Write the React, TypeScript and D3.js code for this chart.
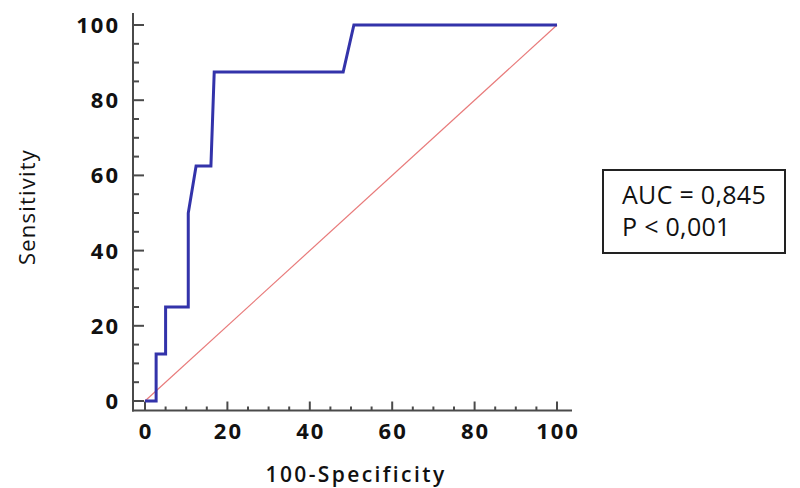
import React from "react";
import * as d3 from "d3";

const fpr = [0, 2.7, 2.7, 5, 5, 10.5, 10.5, 12.4, 16, 16.4, 16.8, 48.1, 50.7, 100];
const tpr = [0, 0, 12.5, 12.5, 25, 25, 50, 62.5, 62.5, 75, 87.5, 87.5, 100, 100];
const refX = [0, 100];
const refY = [0, 100];
const xTicks = [0, 20, 40, 60, 80, 100];
const yTicks = [0, 20, 40, 60, 80, 100];
const legendLines = ["AUC = 0,845", "P < 0,001"];
const xTitle = "100-Specificity";
const yTitle = "Sensitivity";

const FONT = "'Open Sans', 'DejaVu Sans', sans-serif";

export default function App() {
  const x = d3.scaleLinear().domain([0, 100]).range([145, 557]);
  const y = d3.scaleLinear().domain([0, 100]).range([401, 25]);
  const minor = d3.range(0, 101, 5);
  const axisX = 133;
  const axisY = 410.5;
  const axisColor = "#4a4a4a";

  const line = d3
    .line<number>()
    .x((_, i) => x(fpr[i]))
    .y((_, i) => y(tpr[i]));
  const refLine = d3
    .line<number>()
    .x((_, i) => x(refX[i]))
    .y((_, i) => y(refY[i]));

  return (
    <svg
      width={800}
      height={488}
      style={{ position: "absolute", left: 0, top: 0, background: "#fff" }}
    >
      <rect x={0} y={0} width={800} height={488} fill="#fff" />
      {/* Y axis */}
      <line x1={axisX} x2={axisX} y1={13} y2={axisY + 1} stroke={axisColor} strokeWidth={2} />
      {minor.map((v) => (
        <line
          key={"yt" + v}
          x1={axisX}
          x2={axisX + (v % 20 === 0 ? 11 : 6)}
          y1={y(v)}
          y2={y(v)}
          stroke={axisColor}
          strokeWidth={2}
        />
      ))}
      {yTicks.map((v) => (
        <text
          key={"yl" + v}
          x={120}
          y={y(v)}
          dy="0.36em"
          textAnchor="end"
          fontFamily={FONT}
          fontWeight="bold"
          fontSize={22}
          letterSpacing={2}
          fill="#111"
        >
          {v}
        </text>
      ))}
      {/* X axis */}
      <line x1={132} x2={572} y1={axisY} y2={axisY} stroke={axisColor} strokeWidth={2} />
      {minor.map((v) => (
        <line
          key={"xt" + v}
          x1={x(v)}
          x2={x(v)}
          y1={axisY}
          y2={axisY - (v % 20 === 0 ? 9 : 4)}
          stroke={axisColor}
          strokeWidth={2}
        />
      ))}
      {xTicks.map((v) => (
        <text
          key={"xl" + v}
          x={x(v) + 1}
          y={439}
          textAnchor="middle"
          fontFamily={FONT}
          fontWeight="bold"
          fontSize={22}
          letterSpacing={2}
          fill="#111"
        >
          {v}
        </text>
      ))}
      {/* titles */}
      <text
        x={356}
        y={482}
        textAnchor="middle"
        fontFamily={FONT}
        fontWeight={600}
        fontSize={21}
        letterSpacing={2.4}
        fill="#111"
      >
        {xTitle}
      </text>
      <text
        transform={`translate(35,207) rotate(-90)`}
        textAnchor="middle"
        fontFamily={FONT}
        fontSize={22}
        letterSpacing={1.2}
        fill="#111"
      >
        {yTitle}
      </text>
      {/* reference line */}
      <path d={refLine(refX) || ""} fill="none" stroke="#e87a7a" strokeWidth={1.2} />
      {/* ROC curve */}
      <path
        d={line(fpr) || ""}
        fill="none"
        stroke="#3333aa"
        strokeWidth={3}
        strokeLinejoin="miter"
      />
      {/* legend */}
      <rect x={603} y={170} width={182} height={83} fill="#fff" stroke="#222" strokeWidth={2} />
      {legendLines.map((t, i) => (
        <text
          key={t}
          x={622}
          y={204 + i * 32}
          fontFamily={FONT}
          fontSize={25}
          letterSpacing={0.3}
          fill="#111"
        >
          {t}
        </text>
      ))}
    </svg>
  );
}
